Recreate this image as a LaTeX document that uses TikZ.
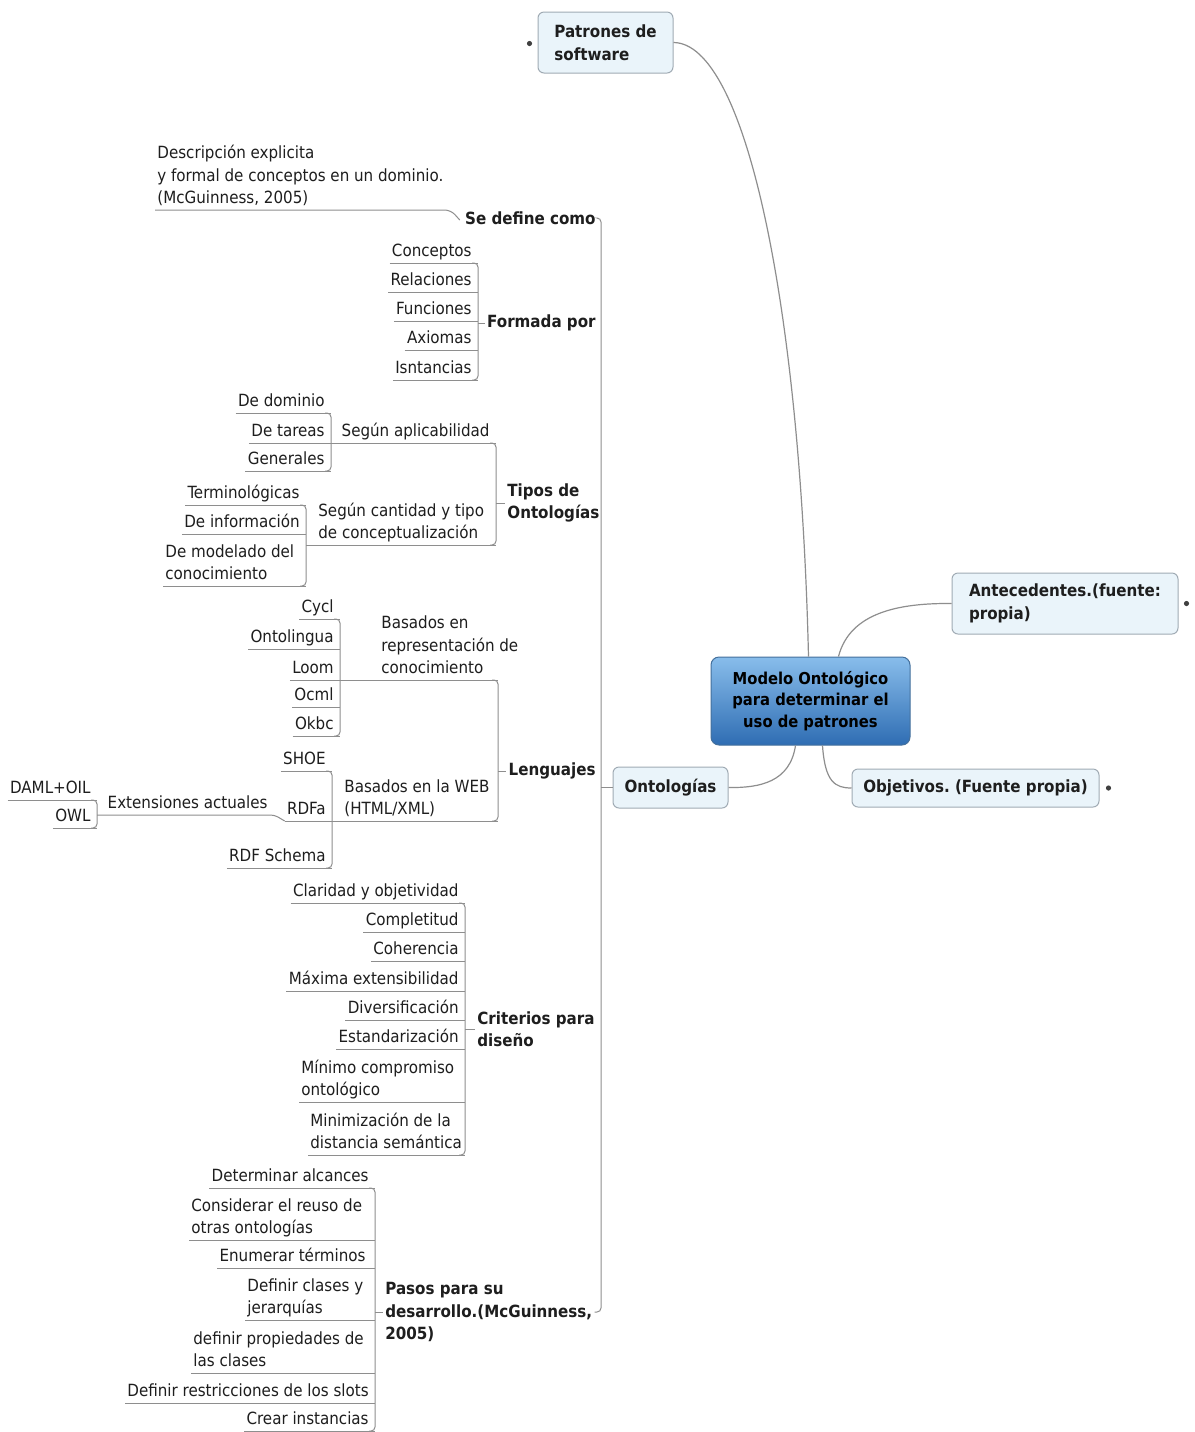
\documentclass[tikz,border=0pt]{standalone}
\usepackage{fontspec}
\setmainfont{DejaVu Sans Condensed}
\usetikzlibrary{calc}
\definecolor{ink}{HTML}{1E1E1E}
\definecolor{wirec}{HTML}{8E8E8E}
\definecolor{boxfill}{HTML}{EAF4FA}
\definecolor{boxline}{HTML}{A0ABB4}
\definecolor{coretop}{HTML}{88BDEB}
\definecolor{corebot}{HTML}{2F6DB3}
\definecolor{coreline}{HTML}{44709C}
\newcommand{\leaffont}{\fontsize{8.4}{11.25}\selectfont}
\newcommand{\headfont}{\fontsize{8.4}{11.25}\selectfont\bfseries}
\newcommand{\corefont}{\fontsize{8.2}{10.75}\selectfont\bfseries}
\tikzset{
  lf/.style={font=\leaffont, text=ink, inner xsep=1pt, inner ysep=0.8pt, text depth=2.1pt, align=left},
  lse/.style={lf, anchor=south east},
  lsw/.style={lf, anchor=south west},
  head/.style={font=\headfont, text=ink, inner sep=1pt, align=left},
  wire/.style={draw=wirec, line width=0.5pt},
  bus/.style={wire, rounded corners=2pt},
  topic/.style={draw=boxline, fill=boxfill, rounded corners=3pt, font=\headfont,
    text=ink, align=left, line width=0.5pt},
  core/.style={draw=coreline, top color=coretop, bottom color=corebot, rounded corners=4pt,
    font=\corefont, text=black, align=center, line width=0.5pt},
  collapsed/.style={circle, fill=ink!85, inner sep=0pt, minimum size=2.6pt},
  curve/.style={draw=wirec, line width=0.6pt}
}
\frenchspacing
\begin{document}
\begin{tikzpicture}[x=0.5pt,y=-0.5pt]
\useasboundingbox (0,0) rectangle (1195,1432);
\fill[white] (0,0) rectangle (1195,1432);

% ---------- main topics ----------
\node[core, minimum width=99.5pt, minimum height=44pt] (core) at (810.5,701)
  {Modelo Ontológico\\para determinar el\\uso de patrones};
\node[topic, minimum width=67.5pt, minimum height=30.5pt] (patr) at (605.5,42.5)
  {Patrones de\\software};
\node[topic, minimum width=113pt, minimum height=30.5pt] (ante) at (1065,603.5)
  {Antecedentes.(fuente:\\propia)};
\node[topic, minimum width=123.5pt, minimum height=19pt] (obj) at (975.5,788)
  {Objetivos. (Fuente propia)};
\node[topic, minimum width=57.5pt, minimum height=20.5pt] (ont) at (670.5,787.5)
  {Ontologías};

\node[collapsed] (dpatr) at ($(patr.west)+(-8,1)$) {};
\node[collapsed] (dante) at ($(ante.east)+(8,0)$) {};
\node[collapsed] (dobj) at ($(obj.east)+(9,0)$) {};

\draw[curve] (patr.east) .. controls (745,43) and (800,300) .. ($(core.north)+(-2,0)$);
\draw[curve] ($(core.north)+(28,0)$) .. controls (850,612) and (900,603) .. (ante.west);
\draw[curve] ($(core.south)+(12,0)$) .. controls (825,782) and (835,788) .. (obj.west);
\draw[curve] ($(core.south)+(-15,0)$) .. controls (790,782) and (760,788) .. (ont.east);

% ---------- bus positions ----------
\coordinate (trunk) at (601,0);
\coordinate (bF) at (478,0);
\coordinate (bT) at (496,0);
\coordinate (bA) at (331,0);
\coordinate (bC) at (306,0);
\coordinate (bL) at (498,0);
\coordinate (bR) at (340,0);
\coordinate (bW) at (332,0);
\coordinate (bE) at (97,0);
\coordinate (bK) at (465,0);
\coordinate (bP) at (375,0);

% ---------- first level under Ontologías ----------
\node[head, anchor=east] (sdc) at (598,218) {Se define como};
\node[head, anchor=east] (fp) at (598,323) {Formada por};
\node[head, anchor=west] (tipos) at (505,503) {Tipos de\\Ontologías};
\node[head, anchor=east] (leng) at (598,771) {Lenguajes};
\node[head, anchor=west] (crit) at (475,1029) {Criterios para\\diseño};
\node[head, anchor=west] (pasos) at (383,1312) {Pasos para su\\desarrollo.(McGuinness,\\2005)};

\draw[bus] (sdc.east) -- (sdc.east -| trunk) -- (pasos.east -| trunk) -- (pasos.east);
\draw[wire] (ont.west) -- (ont.west -| trunk);

% ---------- Se define como ----------
\node[lsw] (desc) at (155,210) {Descripción explicita\\y formal de conceptos en un dominio.\\(McGuinness, 2005)};
\draw[wire, rounded corners=3pt] (desc.south west) -- ($(sdc.west |- desc.south)+(-12,0)$) -- ($(sdc.west)+(-3,2)$);

% ---------- Formada por ----------
\node[lse] (f1) at (474,263) {Conceptos};
\node[lse] (f2) at (474,292) {Relaciones};
\node[lse] (f3) at (474,321) {Funciones};
\node[lse] (f4) at (474,350) {Axiomas};
\node[lse] (f5) at (474,380) {Isntancias};
\foreach \n in {f1,f2,f3,f4,f5} \draw[wire] (\n.south west) -- (\n.south -| bF);
\draw[bus] ($(f1.south -| bF)+(-6,0)$) -- (f1.south -| bF) -- (f5.south -| bF) -- ++(-6,0);
\draw[wire] (bF |- fp.west) -- (fp.west);

% ---------- Tipos de Ontologías ----------
\node[lse] (sapl) at (492,443) {Según aplicabilidad};
\node[lsw] (scan) at (316,545) {Según cantidad y tipo\\de conceptualización};
\draw[wire] (bA |- sapl.south) -- (bT |- sapl.south);
\draw[wire] (bC |- scan.south) -- (bT |- scan.south);
\draw[bus] ($(sapl.south -| bT)+(-6,0)$) -- (sapl.south -| bT) -- (scan.south -| bT) -- ++(-6,0);
\draw[wire] (bT |- tipos.west) -- (tipos.west);

\node[lse] (a1) at (327,413) {De dominio};
\node[lse] (a2) at (327,443) {De tareas};
\node[lse] (a3) at (327,471) {Generales};
\foreach \n in {a1,a2,a3} \draw[wire] (\n.south west) -- (\n.south -| bA);
\draw[bus] ($(a1.south -| bA)+(-6,0)$) -- (a1.south -| bA) -- (a3.south -| bA) -- ++(-6,0);

\node[lse] (c1) at (302,505) {Terminológicas};
\node[lse] (c2) at (302,534) {De información};
\node[lsw] (c3) at (163,586) {De modelado del\\conocimiento};
\foreach \n in {c1,c2,c3} \draw[wire] (\n.south west) -- (\n.south -| bC);
\draw[bus] ($(c1.south -| bC)+(-6,0)$) -- (c1.south -| bC) -- (c3.south -| bC) -- ++(-6,0);

% ---------- Lenguajes ----------
\node[lsw] (brep) at (379,680) {Basados en\\representación de\\conocimiento};
\node[lsw] (bweb) at (342,821) {Basados en la WEB\\(HTML/XML)};
\draw[wire] (bR |- brep.south) -- (bL |- brep.south);
\draw[wire] (bW |- bweb.south) -- (bL |- bweb.south);
\draw[bus] ($(brep.south -| bL)+(-6,0)$) -- (brep.south -| bL) -- (bweb.south -| bL) -- ++(-6,0);
\draw[wire] (bL |- leng.west) -- (leng.west);

\node[lse] (r1) at (336,619) {Cycl};
\node[lse] (r2) at (336,649) {Ontolingua};
\node[lse] (r3) at (336,680) {Loom};
\node[lse] (r4) at (336,707) {Ocml};
\node[lse] (r5) at (336,736) {Okbc};
\foreach \n in {r1,r2,r3,r4,r5} \draw[wire] (\n.south west) -- (\n.south -| bR);
\draw[bus] ($(r1.south -| bR)+(-6,0)$) -- (r1.south -| bR) -- (r5.south -| bR) -- ++(-6,0);

\node[lse] (w1) at (328,771) {SHOE};
\node[lse] (w2) at (328,821) {RDFa};
\node[lse] (w3) at (328,868) {RDF Schema};
\foreach \n in {w1,w2,w3} \draw[wire] (\n.south west) -- (\n.south -| bW);
\draw[bus] ($(w1.south -| bW)+(-6,0)$) -- (w1.south -| bW) -- (w3.south -| bW) -- ++(-6,0);

\node[lse] (ext) at (270,815) {Extensiones actuales};
\draw[wire, rounded corners=2pt] (bE |- ext.south) -- ($(w2.south west)+(-10,-6)$) -- (w2.south west);

\node[lse] (e1) at (93,800) {DAML+OIL};
\node[lse] (e2) at (93,828) {OWL};
\foreach \n in {e1,e2} \draw[wire] (\n.south west) -- (\n.south -| bE);
\draw[bus] ($(e1.south -| bE)+(-6,0)$) -- (e1.south -| bE) -- (e2.south -| bE) -- ++(-6,0);

% ---------- Criterios para diseño ----------
\node[lse] (k1) at (461,903) {Claridad y objetividad};
\node[lse] (k2) at (461,932) {Completitud};
\node[lse] (k3) at (461,961) {Coherencia};
\node[lse] (k4) at (461,991) {Máxima extensibilidad};
\node[lse] (k5) at (461,1020) {Diversificación};
\node[lse] (k6) at (461,1049) {Estandarización};
\node[lsw] (k7) at (299,1102) {Mínimo compromiso\\ontológico};
\node[lsw] (k8) at (308,1155) {Minimización de la\\distancia semántica};
\foreach \n in {k1,k2,k3,k4,k5,k6,k7,k8} \draw[wire] (\n.south west) -- (\n.south -| bK);
\draw[bus] ($(k1.south -| bK)+(-6,0)$) -- (k1.south -| bK) -- (k8.south -| bK) -- ++(-6,0);
\draw[wire] (bK |- crit.west) -- (crit.west);

% ---------- Pasos para su desarrollo ----------
\node[lse] (p1) at (371,1188) {Determinar alcances};
\node[lsw] (p2) at (189,1240) {Considerar el reuso de\\otras ontologías};
\node[lse] (p3) at (368,1268) {Enumerar términos};
\node[lsw] (p4) at (245,1320) {Definir clases y\\jerarquías};
\node[lsw] (p5) at (191,1373) {definir propiedades de\\las clases};
\node[lse] (p6) at (371,1403) {Definir restricciones de los slots};
\node[lse] (p7) at (371,1431) {Crear instancias};
\foreach \n in {p1,p2,p3,p4,p5,p6,p7} \draw[wire] (\n.south west) -- (\n.south -| bP);
\draw[bus] ($(p1.south -| bP)+(-6,0)$) -- (p1.south -| bP) -- (p7.south -| bP) -- ++(-6,0);
\draw[wire] (bP |- pasos.west) -- (pasos.west);
\end{tikzpicture}
\end{document}
